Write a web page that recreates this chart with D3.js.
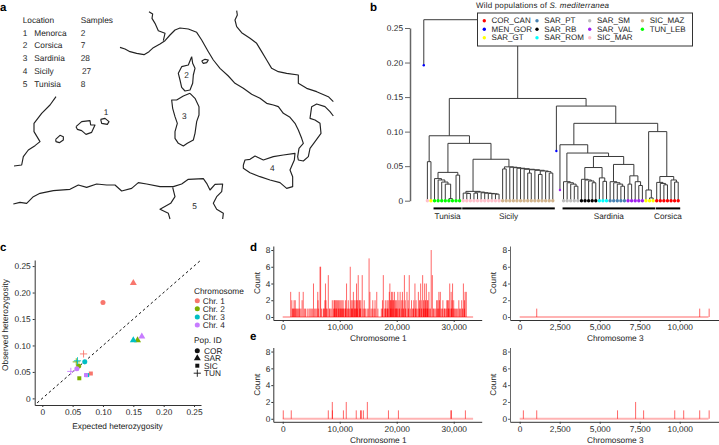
<!DOCTYPE html>
<html><head><meta charset="utf-8">
<script src="https://cdn.jsdelivr.net/npm/d3@7"></script>
<style>
html,body{margin:0;padding:0;background:#fff}
svg{display:block}
text{font-family:"Liberation Sans",Arial,sans-serif;fill:#222;text-rendering:geometricPrecision}
</style></head><body><svg id="c" width="719" height="445"></svg>
<script>
// ---------- panel a: table and coastlines (map units)
const locationNames=["Menorca","Corsica","Sardinia","Sicily","Tunisia"];
const sampleCounts=[2,7,28,27,8];
const mapLabelPoints=[[318,337],[560,226],[553,348],[817,505],[584,618]];
const coastItaly=[[360,142],[375,147],[390,155],[410,160],[432,164],[447,155],[460,143],[480,132],[495,122],[510,105],[525,90],[540,84],[565,87],[590,97],[605,120],[625,155],[640,180],[660,205],[685,228],[705,250],[730,265],[755,283],[780,295],[800,310],[820,315],[835,320],[850,340],[870,352],[885,370],[895,390],[905,415],[910,430],[897,445],[893,470],[895,480],[910,483],[925,470],[930,445],[945,425],[963,400],[960,370],[945,360],[930,355],[935,320],[950,312],[975,320],[990,335],[1000,348]];
const coastAdriatic=[[710,32],[712,45],[705,60],[710,80],[725,98],[750,115],[770,130],[785,155],[800,180],[815,205],[835,215],[860,220],[895,225],[895,250],[920,265],[950,275],[985,290],[1000,305]];
const borderAlps=[[447,35],[458,42],[456,55],[465,70],[475,92],[495,100],[490,122]];
const islandCorsica=[[575,170],[578,190],[585,205],[580,225],[578,250],[570,270],[555,273],[545,262],[540,240],[535,220],[545,200],[565,195],[575,170]];
const islandElba=[[605,183],[615,178],[625,180],[620,188],[610,190],[605,183]];
const islandSardinia=[[570,280],[585,295],[597,320],[597,345],[590,365],[585,400],[580,420],[562,430],[550,438],[535,430],[525,415],[525,395],[532,370],[525,350],[518,325],[515,300],[530,300],[550,288],[570,280]];
const islandMinorca=[[302,358],[315,355],[327,365],[322,373],[305,370],[302,358]];
const islandMallorca=[[228,380],[245,365],[270,362],[272,375],[285,375],[275,397],[258,403],[245,392],[232,388],[228,380]];
const islandIbiza=[[167,418],[180,406],[190,410],[190,420],[178,428],[168,425],[167,418]];
const coastSpain=[[168,290],[150,315],[125,340],[102,370],[102,395],[120,425],[105,437],[85,450],[70,470],[65,495],[42,498]];
const islandSicily=[[730,495],[735,480],[750,478],[765,468],[790,480],[820,470],[850,465],[885,460],[883,480],[870,510],[878,530],[878,560],[860,565],[840,548],[810,540],[780,530],[750,518],[730,505],[730,495]];
const coastAfrica=[[40,612],[60,607],[80,610],[100,590],[120,580],[160,572],[210,568],[235,555],[260,562],[290,552],[320,555],[345,555],[365,573],[395,565],[415,548],[440,552],[480,560],[520,560],[545,552],[565,538],[610,536],[620,550],[630,570],[645,553],[668,552],[665,575],[650,590],[640,610],[650,628],[670,640],[668,657]];
const borderTunisia=[[518,562],[525,590],[512,610],[480,628],[505,640],[510,657]];
const mapLines=[coastItaly,coastAdriatic,borderAlps,islandCorsica,islandElba,islandSardinia,islandMinorca,islandMallorca,islandIbiza,coastSpain,islandSicily,coastAfrica,borderTunisia];

// ---------- panel b: dendrogram
const popNames=["COR_CAN","MEN_GOR","SAR_GT","SAR_PT","SAR_RB","SAR_ROM","SAR_SM","SAR_VAL","SIC_MAR","SIC_MAZ","TUN_LEB"];
const popColors=["#ff0000","#0000ff","#ffff00","#4682b4","#000000","#00ffff","#bebebe","#a020f0","#ffc0cb","#d2b48c","#00ff00"];
const dendroTicks=[0,0.05,0.10,0.15,0.20,0.25];
const T="TUN_LEB",P="SIC_MAR",Z="SIC_MAZ",Y="SAR_GT",G="SAR_SM",K="SAR_RB",C="SAR_ROM",B="SAR_PT",V="SAR_VAL",R="COR_CAN";
const cladeTunisia=[.041,[.032,T,[.030,T,[.027,T,[.024,T,[.003,T,T]]]]],[.037,T,T]];
const cladeMar=[.0135,[.011,P,[.0105,P,P]],[.0125,[.011,P,P],[.0115,P,[.011,P,[.0105,P,[.010,P,[.0095,P,P]]]]]]];
const cladeMaz=[.049,[.046,Z,Z],[.0485,Z,[.0478,Z,[.047,Z,[.0463,Z,[.0455,Z,[.0448,[.04,Z,Z],[.044,Z,[.043,[.038,Z,Z],[.042,Z,[.04,Z,Z]]]]]]]]]]];
const cladeGrey=[.0275,G,[.026,G,[.024,G,[.021,G,G]]]];
const cladeBlack=[.031,K,[.030,K,[.0285,K,[.026,K,K]]]];
const cladeCyan=[.033,C,[.028,C,C]];
const cladeSteel=[.0275,B,[.026,B,[.024,B,[.021,B,B]]]];
const cladeViolet=[.036,[.024,V,V],[.0275,V,[.022,V,V]]];
const cladeCorsica=[.035,[.0265,R,[.025,R,[.023,R,R]]],[.03,R,[.027,R,R]]];
const cladeGT=[.0155,Y,[.004,Y,Y]];
const cladeSardinia=[.081,[V,.0155],[.069,cladeGrey,[.064,[.048,cladeBlack,cladeCyan],[.0525,cladeSteel,cladeViolet]]]];
const treeLeft=[.094,[.0565,P,Y],[.083,cladeTunisia,[.060,cladeMar,cladeMaz]]];
const treeRight=[.137,["MEN_GOR",.072],[.112,cladeSardinia,[.100,cladeGT,cladeCorsica]]];
const treeRoot=[.262,["MEN_GOR",.196],[.148,treeLeft,treeRight]];
const regionNames=["Tunisia","Sicily","Sardinia","Corsica"];
const regionFirstLeaf=[3,11,39,65];
const regionLastLeaf=[10,36,64,71];

// ---------- panel c: heterozygosity
const chromNames=["Chr. 1","Chr. 2","Chr. 3","Chr. 4"];
const chromColors=["#F8766D","#7CAE00","#00BFC4","#C77CFF"];
const popIds=["COR","SAR","SIC","TUN"];
const expectedHet=[[.100,.150,.080,.068],[.060,.157,.061,.056],[.070,.150,.074,.058],[.057,.164,.072,.047]];
const observedHet=[[.181,.218,.047,.084],[.061,.110,.038,.069],[.069,.110,.044,.071],[.056,.117,.044,.051]];
const hetTicks=[0,.05,.10,.15,.20,.25];

// ---------- panels d, e: counts along chromosomes (positions in bp)
const chr1LengthBp=33400, chr3LengthBp=11800;
const dChr1Peaks=[1400,1600,2000,2200,2900,3400,3600,5400,6150,6550,6650,7500,8000,8700,9000,9300,9600,10000,10400,11200,11850,12400,12500,12950,13250,13400,13950,15150,15300,15800,16500,17650,18700,18800,19100,19300,19400,19600,20200,20600,21000,21350,21800,22200,22600,23200,23800,24200,24550,24900,25200,25650,26050,26250,27000,27400,27650,28100,28800,29300,29550,29800,30900,31400,31700,32000,32200];
const dChr1PeakCounts=[3,2,2,2,3,2,3,4,3,6,6,4,5,2,2,2,2,2,2,4,6,3,2,4,5,2,5,7,3,2,3,5,3,4,3,3,2,3,3,3,3,5,3,5,2,4,3,4,5,4,4,3,8,5,2,3,3,2,2,4,3,4,2,2,4,3,3];
const dChr1Doubles=[6200,7400,7600,9100,9400,9800,10200,10600,11000,11500,12000,12200,12700,13000,13100,13500,13700,14300,16200,17500,18000,18300,18500,18900,19000,19200,19500,19800,20000,20400,20800,21100,21500,22000,23000,23400,24000,24300,24700,25000,25100,25400,25500,27200,27500,28900,29100,29700,30000,31900];
const dChr1Singles=[1700,1800,1900,2100,2300,2400,2600,2800,3000,3200,3800,4000,4300,4600,4800,5000,5200,5600,5800,6000,6300,6800,7100,7200,7300,7700,7800,8200,8300,8500,8900,9100,9200,9400,9500,9800,9900,10100,10200,10300,10500,10600,10700,10900,11000,11100,11400,11500,11700,12000,12100,12200,12300,12600,12700,12800,13000,13100,13500,13600,13700,14100,14300,14500,14800,15000,15500,15700,16000,16200,16700,17300,17500,17900,18000,18100,18300,18400,18500,18900,19000,19200,19500,19800,19900,20000,20100,20400,20500,20800,21100,21200,21500,21600,22000,22100,22400,22800,22900,23000,23300,23400,23600,23900,24000,24300,24400,24700,24800,25000,25100,25300,25400,25500,25800,25900,26400,26500,26700,26900,27200,27300,27600,27900,28000,28300,28400,28500,28700,29000,29100,29200,29500,29600,29700,30000,30100,30300,30500,30700,31000,31200,31500,31600,31900];
const dChr3Pos=[1065,11250,11840];
const dChr3Counts=[1,1,1];
const eChr1Pos=[100,1500,8000,8700,8720,10650,11150,12900,13650,13800,14150,14850,18550,20300,29500,29600,32050];
const eChr1Counts=[1,1,1,2,1,1,2,1,1,1,1,2,1,1,1,1,1];
const eChr3Pos=[230,1065,6115,7245,7745,9690,10250,11250,11840];
const eChr3Counts=[1,1,1,2,1,1,1,1,1];
const countTicks=[0,2,4,6,8];
const chr1Ticks=[0,10000,20000,30000];
const chr3Ticks=[0,2500,5000,7500,10000];

// ==================== drawing
const svg=d3.select("#c");
const FS=8.3;
function label(g,x,y,s,o={}){
  const t=g.append("text").attr("x",x).attr("y",y).text(s)
   .attr("font-size",o.size||FS).attr("dominant-baseline","central");
  if(o.anchor)t.attr("text-anchor",o.anchor);
  if(o.weight)t.attr("font-weight",o.weight);
  if(o.rotate)t.attr("transform",`rotate(${o.rotate} ${x} ${y})`);
  return t;
}
function styleAxis(g,col){
  g.selectAll("text").attr("font-size",FS).style("fill","#222");
  g.selectAll("line").attr("stroke",col);
  g.selectAll("path").attr("stroke",col);
  g.attr("font-family",null);
}
// panel letters
[["a",0,7.5],["b",370,7.5],["c",0,248],["d",250,247.5],["e",250,337]].forEach(d=>
  label(svg,d[1],d[2],d[0],{size:11.5,weight:"bold"}).style("fill","#000"));

// --- a
const mapX=d3.scaleLinear().domain([0,1080]).range([0,360]);
const mapY=d3.scaleLinear().domain([0,690]).range([0,230]);
const coastLine=d3.line().x(d=>mapX(d[0])).y(d=>mapY(d[1]));
svg.append("g").selectAll("path").data(mapLines).join("path").attr("d",coastLine)
  .attr("fill","none").attr("stroke","#222").attr("stroke-width",1.15).attr("stroke-linejoin","round");
const ga=svg.append("g");
label(ga,mapX(68),mapY(60),"Location");
label(ga,mapX(242),mapY(60),"Samples");
locationNames.forEach((n,i)=>{
  const y=mapY(98+38.3*i);
  label(ga,mapX(68),y,String(i+1));
  label(ga,mapX(103),y,n);
  label(ga,mapX(n==="Sicily"?246:242),y,String(sampleCounts[i]));
  label(ga,mapX(mapLabelPoints[i][0]),mapY(mapLabelPoints[i][1]),String(i+1),{anchor:"middle"});
});

// --- b
const popColor=d3.scaleOrdinal(popNames,popColors);
const dY=d3.scaleLinear().domain([0,.25]).range([200.7,28]);
const dX=d3.scaleLinear().domain([0,1]).range([422,680]);
const isInner=d=>Array.isArray(d)&&typeof d[0]==="number";
const tree=d3.hierarchy(treeRoot,d=>isInner(d)?d.slice(1):null);
d3.cluster().size([1,1]).separation(()=>1)(tree);
const hOf=n=>isInner(n.data)?n.data[0]:(Array.isArray(n.data)?n.data[1]:0);
const popOf=n=>Array.isArray(n.data)?n.data[0]:n.data;
const gb=svg.append("g");
const seg=[];
tree.descendants().forEach(n=>{
  if(!n.children)return;
  const a=n.children[0],b=n.children[n.children.length-1];
  seg.push(`M${dX(a.x)},${dY(hOf(a))}V${dY(hOf(n))}H${dX(b.x)}V${dY(hOf(b))}`);
});
gb.append("path").attr("d",seg.join("")).attr("fill","none").attr("stroke","#3a3a3a").attr("stroke-width",1);
const leaves=tree.leaves();
gb.selectAll("circle").data(leaves).join("circle")
  .attr("cx",d=>dX(d.x)).attr("cy",d=>dY(hOf(d))).attr("r",d=>hOf(d)>0?1.2:1.7).attr("fill",d=>popColor(popOf(d)));
const axB=svg.append("g").attr("transform","translate(410,0)")
  .call(d3.axisLeft(dY).tickValues(dendroTicks).tickFormat(d=>d===0?"0":d.toFixed(2)).tickSize(5).tickSizeOuter(0).tickPadding(2));
styleAxis(axB,"#666"); axB.selectAll("path").attr("stroke-width",1.5);
// region bars
const leafX=i=>dX(leaves[i].x);
regionNames.forEach((n,i)=>{
  const x0=leafX(regionFirstLeaf[i])-1, x1=leafX(regionLastLeaf[i])+2;
  gb.append("rect").attr("x",x0).attr("y",207.4).attr("width",x1-x0).attr("height",2).attr("fill","#000");
  label(gb,(x0+x1)/2,216.5,n,{anchor:"middle",size:8.2});
});
// legend
const lg=svg.append("g");
lg.append("rect").attr("x",477.5).attr("y",13).attr("width",215).attr("height",33).attr("fill","#fff").attr("stroke","#333").attr("stroke-width",1);
const legCol=d3.scaleLinear().domain([0,1]).range([484.3,537]);
popNames.forEach((n,i)=>{
  const col=Math.floor(i/3),row=i%3;
  const x=legCol(col), y=20.7+8.5*row;
  lg.append("circle").attr("cx",x).attr("cy",y).attr("r",1.7).attr("fill",popColors[i]);
  label(lg,x+7.3,y,n,{size:8});
});
const title=svg.append("text").attr("x",476).attr("y",4.8).attr("font-size",8).attr("dominant-baseline","central").attr("textLength",133).attr("lengthAdjust","spacing");
title.append("tspan").text("Wild populations of ");
title.append("tspan").attr("font-style","italic").text("S. mediterranea");

// --- c
const hX=d3.scaleLinear().domain([-.0125,.2615]).range([34.7,201]);
const hY=d3.scaleLinear().domain([-.0125,.2615]).range([405,260]);
const axCx=svg.append("g").attr("transform","translate(0,405)")
  .call(d3.axisBottom(hX).tickValues(hetTicks).tickFormat(d=>d===0?"0":d.toFixed(2)).tickSize(2).tickSizeOuter(0).tickPadding(2));
styleAxis(axCx,"#333");
const axCy=svg.append("g").attr("transform","translate(34.7,0)")
  .call(d3.axisLeft(hY).tickValues(hetTicks).tickFormat(d=>d===0?"0":d.toFixed(2)).tickSize(2).tickSizeOuter(0).tickPadding(2));
styleAxis(axCy,"#333");
svg.append("path").datum([-.0085,.2625]).attr("d",d=>d3.line().x(v=>hX(v)).y(v=>hY(v))(d))
  .attr("stroke","#111").attr("stroke-width",1).attr("stroke-dasharray","2.6,2.6").attr("fill","none");
const symType=[d3.symbolCircle,d3.symbolTriangle,d3.symbolSquare];
function marker(g,x,y,k,col){
  if(k===3){
    const s=3.6;
    g.append("path").attr("d",`M${x-s},${y}H${x+s}M${x},${y-s}V${y+s}`).attr("stroke",col).attr("stroke-width",.9).attr("fill","none");
  } else {
    const size=[20,21,16][k];
    g.append("path").attr("d",d3.symbol().type(symType[k]).size(size)()).attr("transform",`translate(${x},${y})`).attr("fill",col);
  }
}
const gc=svg.append("g");
chromNames.forEach((c,i)=>popIds.forEach((p,k)=>marker(gc,hX(expectedHet[i][k]),hY(observedHet[i][k]),k,chromColors[i])));
label(svg,(215+490)/6,426,"Expected heterozygosity",{anchor:"middle"});
label(svg,4.7,325,"Observed heterozygosity",{anchor:"middle",rotate:-90});
label(svg,194,291,"Chromosome");
chromNames.forEach((c,i)=>{
  const y=300.7+8.1*i;
  marker(svg,197.3,y,0,chromColors[i]);
  label(svg,202.7,y,c);
});
label(svg,194,340,"Pop. ID");
popIds.forEach((p,i)=>{
  const y=350.7+7.5*i;
  marker(svg,197.3,y,i,"#111");
  label(svg,204,y,p);
});

// --- d, e
function countPanel(o){
  const x=d3.scaleLinear().domain(o.xDom).range(o.xRange);
  const y=d3.scaleLinear().domain([-.36,8.48]).range(o.yRange);
  const g=svg.append("g");
  g.append("line").attr("x1",x(0)).attr("x2",x(o.len)).attr("y1",y(0)).attr("y2",y(0))
    .attr("stroke","#ffb3b3").attr("stroke-width",1.8);
  g.selectAll("line.s").data(o.pos).join("line").attr("class","s")
    .attr("x1",d=>x(d)).attr("x2",d=>x(d)).attr("y1",y(0))
    .attr("y2",(d,i)=>y(o.counts[i]))
    .attr("stroke","#ff0000").attr("stroke-opacity",.6).attr("stroke-width",1);
  const ax=svg.append("g").attr("transform",`translate(0,${o.yRange[0]})`)
    .call(d3.axisBottom(x).tickValues(o.ticks).tickFormat(d3.format(",")).tickSize(2).tickSizeOuter(0).tickPadding(2));
  styleAxis(ax,"#333");
  const ay=svg.append("g").attr("transform",`translate(${o.xRange[0]},0)`)
    .call(d3.axisLeft(y).tickValues(countTicks).tickSize(2).tickSizeOuter(0).tickPadding(1));
  styleAxis(ay,o.xRange[0]>500?"#666":"#333");
  label(svg,o.titleX,o.yRange[0]+18,o.title,{anchor:"middle"});
  label(svg,o.countX,(o.yRange[0]+o.yRange[1])/2,"Count",{anchor:"middle",rotate:-90});
}
const x1Dom=[-1650,34910], x1Rng=[273.3,481.7];
const x3Dom=[-605,12456], x3Rng=[510,719];
const dPos=dChr1Peaks.concat(dChr1Singles,dChr1Doubles);
const dCnt=dChr1PeakCounts.concat(dChr1Singles.map(()=>1),dChr1Doubles.map(()=>2));
countPanel({xDom:x1Dom,xRange:x1Rng,yRange:[320,246],len:chr1LengthBp,pos:dPos,counts:dCnt,ticks:chr1Ticks,title:"Chromosome 1",titleX:378.3,countX:257.3});
countPanel({xDom:x3Dom,xRange:x3Rng,yRange:[320,246],len:chr3LengthBp,pos:dChr3Pos,counts:dChr3Counts,ticks:chr3Ticks,title:"Chromosome 3",titleX:615.3,countX:493.3});
countPanel({xDom:x1Dom,xRange:x1Rng,yRange:[421.8,347.5],len:chr1LengthBp,pos:eChr1Pos,counts:eChr1Counts,ticks:chr1Ticks,title:"Chromosome 1",titleX:378.3,countX:257.3});
countPanel({xDom:x3Dom,xRange:x3Rng,yRange:[421.8,347.5],len:chr3LengthBp,pos:eChr3Pos,counts:eChr3Counts,ticks:chr3Ticks,title:"Chromosome 3",titleX:615.3,countX:493.3});
</script></body></html>
